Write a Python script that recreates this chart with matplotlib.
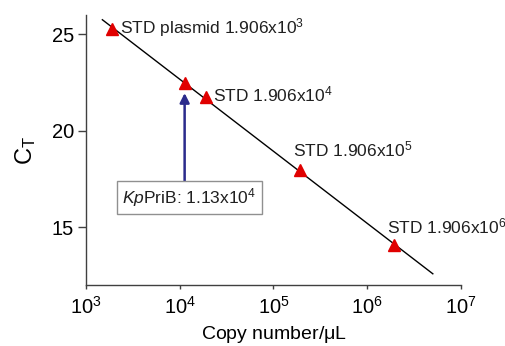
import numpy as np
import matplotlib
matplotlib.use("Agg")
import matplotlib.pyplot as plt

plt.rcParams['font.family'] = ['Liberation Sans', 'DejaVu Sans']
plt.rcParams['mathtext.fontset'] = 'custom'
plt.rcParams['mathtext.rm'] = 'Liberation Sans'
plt.rcParams['mathtext.it'] = 'Liberation Sans:italic'

# standard curve: plasmid dilutions (copies/uL) and measured CT
std_copies = [1.906e3, 1.906e4, 1.906e5, 1.906e6]
std_ct = [25.26, 21.74, 17.95, 14.07]
std_labels = ['STD plasmid 1.906x10$^3$', 'STD 1.906x10$^4$',
              'STD 1.906x10$^5$', 'STD 1.906x10$^6$']
label_offsets = [(6, 1), (5, 2), (-4.5, 15), (-5, 13.5)]

# unknown sample
sample_copies = 1.13e4
sample_ct = 22.45
sample_label = '$\\mathit{Kp}$PriB: 1.13x10$^4$'

# regression line range
fit_range = [1.5e3, 5.0e6]

fig = plt.figure(figsize=(5.05, 3.46), dpi=100)
ax = fig.add_axes([0.170, 0.176, 0.743, 0.781])

slope, icept = np.polyfit(np.log10(std_copies), std_ct, 1)
xf = np.array(fit_range)
ax.plot(xf, icept + slope * np.log10(xf), color='black', lw=1.0, zorder=2)

ax.plot(std_copies + [sample_copies], std_ct + [sample_ct], linestyle='none',
        marker='^', color='#e00000', markersize=8.5, zorder=3)

for x, y, lab, off in zip(std_copies, std_ct, std_labels, label_offsets):
    ax.annotate(lab, xy=(x, y), xytext=off, textcoords='offset points',
                ha='left', va='center', fontsize=12.5, color='#202020')

# arrow and box for the sample
ax.annotate('', xy=(sample_copies, 21.95), xytext=(sample_copies, 17.33),
            arrowprops=dict(arrowstyle='-|>', color='#2b2b8c', lw=1.8,
                            mutation_scale=14, shrinkA=0, shrinkB=0))
ax.text(1.27e4, 16.55, sample_label, ha='center', va='center', fontsize=12.5,
        color='#202020',
        bbox=dict(boxstyle='square,pad=0.3', fc='white', ec='#909090', lw=1.0))

ax.set_xscale('log')
ax.set_xlim(1e3, 1e7)
ax.set_ylim(12, 26)
ax.set_yticks([15, 20, 25])
ax.minorticks_off()
ax.xaxis.set_minor_locator(matplotlib.ticker.NullLocator())

for s in ['top', 'right']:
    ax.spines[s].set_visible(False)
for s in ['left', 'bottom']:
    ax.spines[s].set_color('#404040')
    ax.spines[s].set_linewidth(1.0)

ax.tick_params(axis='y', length=5.5, width=1.0, color='#404040', labelsize=14.5, pad=3)
ax.tick_params(axis='x', length=3, width=1.0, color='#404040', labelsize=14.5, pad=5)

ax.set_xlabel('Copy number/$\\mathrm{\\mu}$L', fontsize=14, labelpad=4)
ax.set_ylabel('C$_\\mathrm{T}$', fontsize=17, labelpad=10)

fig.savefig('out.png', dpi=100)
